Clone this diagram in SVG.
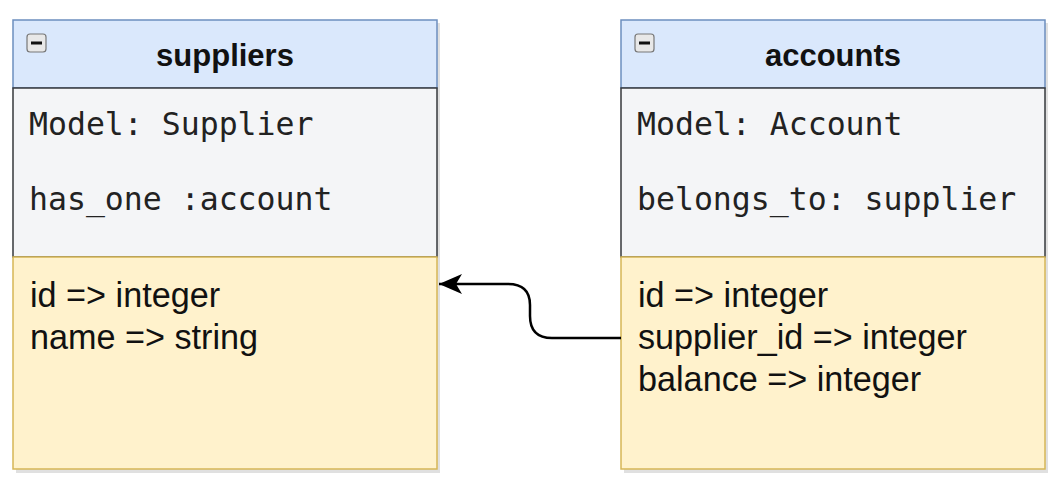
<svg xmlns="http://www.w3.org/2000/svg" width="1060" height="488" viewBox="0 0 1060 488">
<style>
.hdr{fill:#dae8fc;stroke:#6c8ebf;stroke-width:1.5}
.mid{fill:#f4f5f7;stroke:#36393d;stroke-width:1.5}
.low{fill:#fff2cc;stroke:#d6b656;stroke-width:1.5}
.shadow{fill:#000;opacity:0.12}
.title{font-family:"Liberation Sans",Arial,sans-serif;font-weight:bold;font-size:31px;fill:#111;text-anchor:middle}
.mono{font-family:"DejaVu Sans Mono","Liberation Mono",monospace;font-size:31.5px;fill:#222}
.attr{font-family:"Liberation Sans",Arial,sans-serif;font-size:34.2px;fill:#111}
.btn{fill:#e8e8e8;stroke:#777;stroke-width:1.2}
.edge{fill:none;stroke:#000;stroke-width:2.5}
</style>
<defs>
<marker id="arrow" markerUnits="userSpaceOnUse" markerWidth="26" markerHeight="24" refX="24" refY="11" orient="auto" viewBox="0 0 26 22">
<path d="M24 11 L1 1 L7 11 L1 21 Z" fill="#000"/>
</marker>
</defs>
<rect width="1060" height="488" fill="#fff"/>
<g id="suppliers">
<rect class="shadow" x="16" y="23" width="424" height="450"/>
<rect class="hdr" x="13" y="20" width="424" height="68"/>
<rect class="mid" x="13" y="88" width="424" height="169"/>
<rect class="low" x="13" y="257" width="424" height="212"/>
<rect class="btn" x="27" y="34" width="19" height="18" rx="3"/>
<rect x="31" y="41.5" width="11" height="3" fill="#111"/>
<text class="title" x="225" y="66">suppliers</text>
<text class="mono" x="29" y="135">Model: Supplier</text>
<text class="mono" x="29" y="210">has_one :account</text>
<text class="attr" x="30" y="307">id =&gt; integer</text>
<text class="attr" x="30" y="349">name =&gt; string</text>
</g>
<g id="accounts">
<rect class="shadow" x="624" y="23" width="424" height="450"/>
<rect class="hdr" x="621" y="20" width="424" height="68"/>
<rect class="mid" x="621" y="88" width="424" height="169"/>
<rect class="low" x="621" y="257" width="424" height="212"/>
<rect class="btn" x="635" y="34" width="19" height="18" rx="3"/>
<rect x="639" y="41.5" width="11" height="3" fill="#111"/>
<text class="title" x="833" y="66">accounts</text>
<text class="mono" x="637" y="135">Model: Account</text>
<text class="mono" x="637" y="210">belongs_to: supplier</text>
<text class="attr" x="638" y="307">id =&gt; integer</text>
<text class="attr" x="638" y="349">supplier_id =&gt; integer</text>
<text class="attr" x="638" y="391">balance =&gt; integer</text>
</g>
<g id="connectors">
<path class="edge" d="M621 338 L552 338 Q530 338 530 316 L530 305 Q530 284 508 284 L439 284" marker-end="url(#arrow)"/>
</g>
</svg>
